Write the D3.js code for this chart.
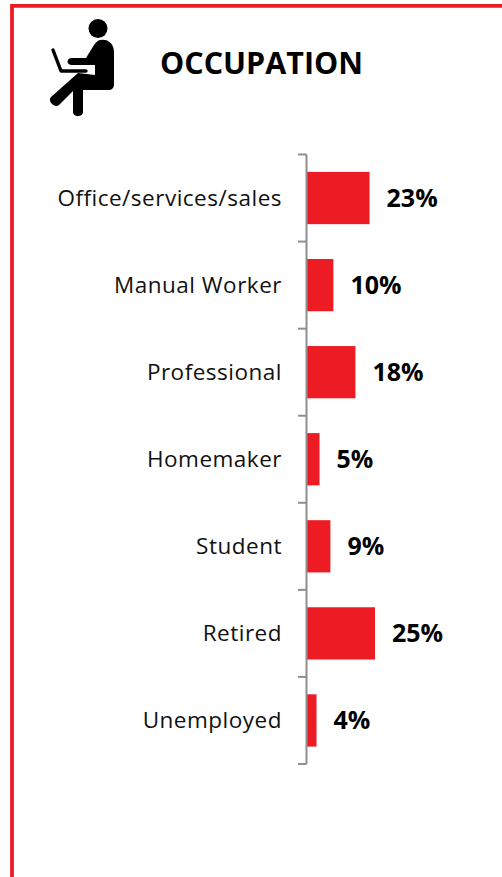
<!DOCTYPE html>
<html><head><meta charset="utf-8">
<script src="https://cdn.jsdelivr.net/npm/d3@7"></script>
<style>html,body{margin:0;padding:0;background:#fff;overflow:hidden}svg{display:block}</style>
</head><body><svg id="c" width="502" height="877"></svg>
<script>
const categories = ["Office/services/sales","Manual Worker","Professional","Homemaker","Student","Retired","Unemployed"];
const values = [23,9.7,17.8,4.6,8.6,25,3.5];
const title = "OCCUPATION";

const svg = d3.select("#c");
const red = "#ed1c24", grey = "#8f8f8f";

// frame
svg.append("path").attr("d","M12 877V5.8H502").attr("fill","none").attr("stroke",red).attr("stroke-width",3.8);

// icon
const icon = svg.append("g");
icon.append("circle").attr("cx",98).attr("cy",28.5).attr("r",9.5).attr("fill","#000");
icon.append("path").attr("fill","#000").attr("d","M101 40 C108 39 114 44 114 52 L114 84 C114 88 112 90 108 90 L83 90 L83 112 C83 117.5 73 117.5 73 112 L73 91 L59 105 C55 109 47 101 51 97 L78 73 L95 75 L95 65 L72 65 C66 65 66 58 72 58 L86 58 L94 45 C96 42 98 40 101 40 Z");
icon.append("path").attr("fill","none").attr("stroke","#000").attr("stroke-width",3.4).attr("stroke-linecap","round").attr("stroke-linejoin","round").attr("d","M53 50 L61 71 L86 71");
svg.append("text").attr("x",160).attr("y",74).attr("font-family","'Open Sans',sans-serif").attr("font-weight",700).attr("font-size",31).attr("textLength",203).attr("lengthAdjust","spacingAndGlyphs").attr("fill","#000").text(title);

// scales
const x = d3.scaleLinear().domain([0,25]).range([307,375]);
const y = d3.scaleBand().domain(categories).range([154.5,764]).paddingInner(0.4).paddingOuter(0.2);
const step = y.step();

// bars
svg.append("g").selectAll("rect").data(values).join("rect")
  .attr("x",x(0)).attr("y",(d,i)=>y(categories[i]))
  .attr("width",d=>x(d)-x(0)).attr("height",y.bandwidth()).attr("fill",red);

// axis
const axisG = svg.append("g");
axisG.append("line").attr("x1",306.5).attr("x2",306.5).attr("y1",154.5).attr("y2",764).attr("stroke",grey).attr("stroke-width",2);
axisG.selectAll("line.t").data(d3.range(categories.length+1)).join("line").attr("class","t")
  .attr("x1",298).attr("x2",306.5)
  .attr("y1",i=>154.5+i*step).attr("y2",i=>154.5+i*step)
  .attr("stroke",grey).attr("stroke-width",2);

// category labels
svg.append("g").selectAll("text").data(categories).join("text")
  .attr("x",282).attr("y",d=>y(d)+y.bandwidth()/2).attr("dy","0.35em")
  .attr("text-anchor","end").attr("font-family","'Open Sans',sans-serif").attr("font-size",22.5).attr("letter-spacing",0.5).attr("fill","#111").text(d=>d);

// value labels
svg.append("g").selectAll("text").data(values).join("text")
  .attr("x",d=>x(d)+17).attr("y",(d,i)=>y(categories[i])+y.bandwidth()/2).attr("dy","0.35em")
  .attr("font-family","'Open Sans',sans-serif").attr("font-weight",700).attr("font-size",25).attr("fill","#000").text(d=>d3.format(".0f")(d)+"%");
</script></body></html>
